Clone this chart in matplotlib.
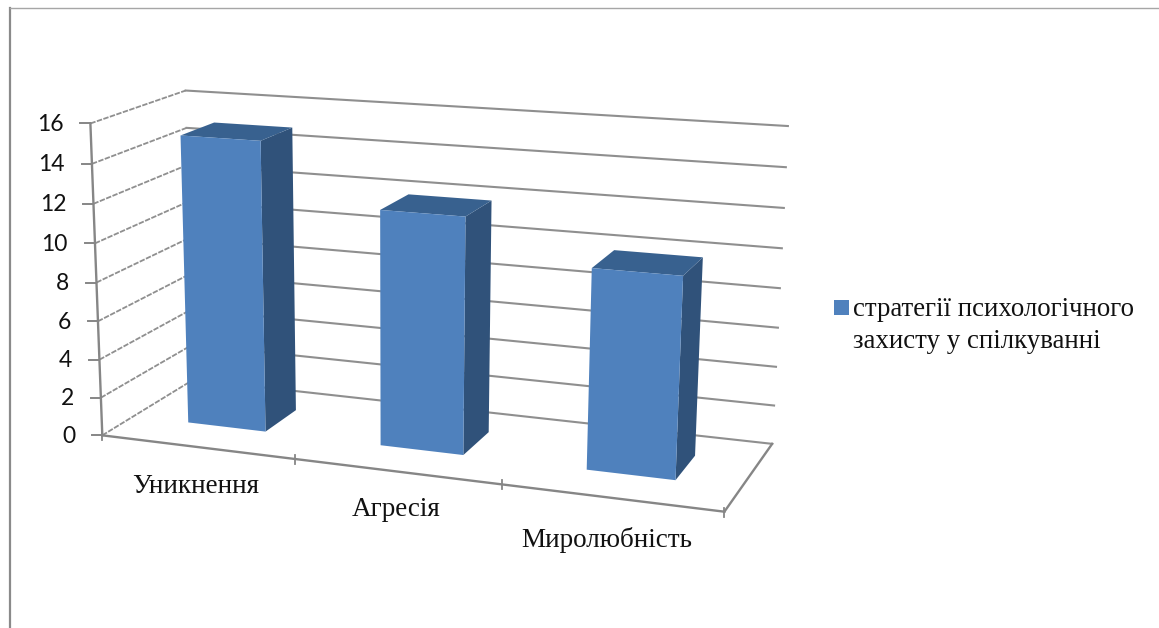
import numpy as np
import matplotlib
matplotlib.use("Agg")
import matplotlib.pyplot as plt
from matplotlib.patches import Polygon, Rectangle

categories = ["Уникнення", "Агресія", "Миролюбність"]
values = [15, 12, 10]
value_ticks = list(range(0, 18, 2))
series_name = "стратегії психологічного\nзахисту у спілкуванні"

FRONT = "#4f81bd"
TOP = "#38618f"
SIDE = "#30527a"
GRID = "#8f8f8f"
AXIS = "#868686"

# box coordinates (category pos, depth, value) -> canvas pixels, used to fit the camera
anchors = [
    ((0, 0, 0), (103, 434)),
    ((0, 0, 16), (91, 122)),
    ((0, 1, 16), (185, 91)),
    ((0, 1, 0), (193, 381)),
    ((3, 1, 0), (773, 441)),
    ((3, 1, 16), (788, 127)),
    ((3, 0, 0), (724, 513)),
    ((1, 0, 0), (295, 460)),
    ((2, 0, 0), (501, 485)),
]

# category label nudges, in pixels from the floor edge
label_dx = [-1, -1, -4]
label_dy = [46, 45, 49]


def fit_camera(pairs):
    rows = []
    for (u, d, v), (px, py) in pairs:
        p = [u, d, v, 1]
        rows.append(p + [0, 0, 0, 0] + [-px * c for c in p])
        rows.append([0, 0, 0, 0] + p + [-py * c for c in p])
    return np.linalg.svd(np.array(rows, dtype=float))[2][-1].reshape(3, 4)


camera = fit_camera(anchors)


def project(u, d, v):
    q = camera @ np.array([u, d, v, 1.0])
    return q[0] / q[2], q[1] / q[2]


fig = plt.figure(figsize=(11.59, 6.28), dpi=100)
ax = fig.add_axes([0, 0, 1, 1])
ax.set_xlim(0, 1159)
ax.set_ylim(628, 0)
ax.axis("off")

# outer chart border, only top and left show
ax.plot([9.5, 9.5], [8, 628], color="#8a8a8a", lw=1.6)
ax.plot([9.5, 1159], [8, 8], color="#a6a6a6", lw=1)

# walls and value axis
for t in value_ticks:
    a, b, c = project(0, 0, t), project(0, 1, t), project(3, 1, t)
    ax.plot([a[0], b[0]], [a[1], b[1]], color=GRID, lw=1.3, ls=(0, (3, 0.8)))
    ax.plot([b[0], c[0]], [b[1], c[1]], color=GRID, lw=1.5)
    ax.plot([a[0] - 10, a[0]], [a[1], a[1]], color=AXIS, lw=1.4)
    ax.text(a[0] - 27, a[1] + 1, str(t), ha="right", va="center",
            fontsize=16.5, family="Lato", color="#111111")

# floor edges
p0, p1 = project(0, 0, 0), project(0, 0, 16)
ax.plot([p0[0], p1[0]], [p0[1], p1[1]], color=AXIS, lw=1.7)
p2, p3 = project(3, 0, 0), project(3, 1, 0)
ax.plot([p0[0], p2[0]], [p0[1], p2[1]], color=AXIS, lw=1.7)
ax.plot([p2[0], p3[0]], [p2[1], p3[1]], color=AXIS, lw=1.7)
for i in range(len(categories) + 1):
    x, y = project(i, 0, 0)
    ax.plot([x, x], [y - 4, y + 5], color=AXIS, lw=1.3)

# bars
half_w = 0.205
d0, d1 = 0.33, 0.70
for i, val in enumerate(values):
    c = i + 0.5
    l, r = c - half_w, c + half_w
    side = [project(r, d0, 0), project(r, d1, 0), project(r, d1, val), project(r, d0, val)]
    top = [project(l, d0, val), project(r, d0, val), project(r, d1, val), project(l, d1, val)]
    front = [project(l, d0, 0), project(r, d0, 0), project(r, d0, val), project(l, d0, val)]
    ax.add_patch(Polygon(side, closed=True, fc=SIDE, ec="none", zorder=3))
    ax.add_patch(Polygon(top, closed=True, fc=TOP, ec="none", zorder=3))
    ax.add_patch(Polygon(front, closed=True, fc=FRONT, ec="none", zorder=4))

    x, y = project(c, 0, 0)
    ax.text(x + label_dx[i], y + label_dy[i], categories[i], ha="center", va="baseline",
            fontsize=19.5, family="Liberation Serif", color="#111111")

# legend
ax.add_patch(Rectangle((834, 300), 15, 14.5, fc=FRONT, ec="none"))
ax.text(853, 316, series_name.split("\n")[0], ha="left", va="baseline",
        fontsize=19.4, family="Liberation Serif", color="#111111")
ax.text(853, 348, series_name.split("\n")[1], ha="left", va="baseline",
        fontsize=19.4, family="Liberation Serif", color="#111111")

fig.savefig("out.png", dpi=100)
